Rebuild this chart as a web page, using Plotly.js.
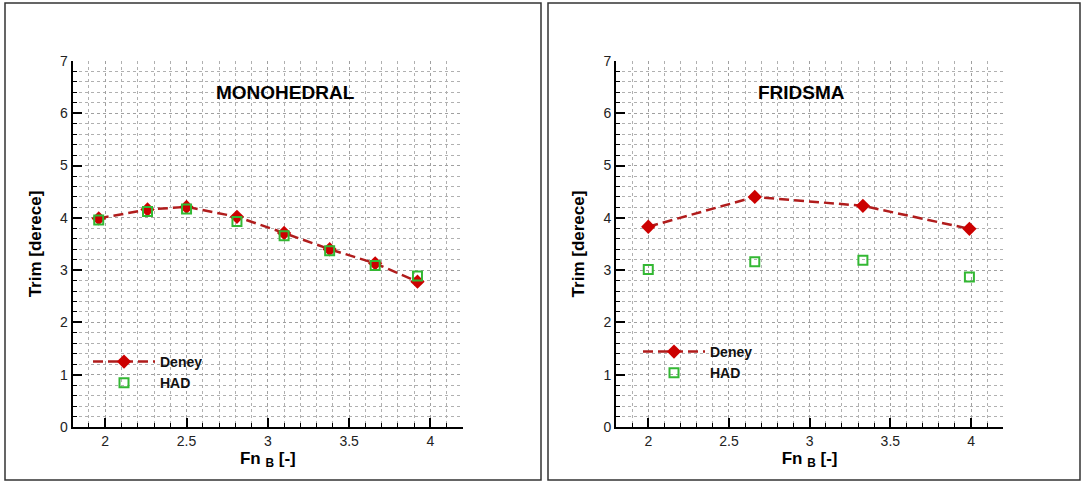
<!DOCTYPE html>
<html>
<head>
<meta charset="utf-8">
<script src="https://cdn.plot.ly/plotly-3.0.1.min.js"></script>
<style>html,body{margin:0;padding:0;background:#fff;}#chart{width:1083px;height:481px;}</style>
</head>
<body>
<div id="chart"></div>
<script>
// ---- data ----
const monoFn    = [1.96, 2.26, 2.50, 2.81, 3.10, 3.38, 3.66, 3.92];
const monoDeney = [3.99, 4.16, 4.21, 4.02, 3.71, 3.40, 3.13, 2.78];
const monoHAD   = [3.96, 4.12, 4.17, 3.93, 3.66, 3.37, 3.09, 2.89];

const fridFn    = [2.00, 2.66, 3.33, 3.99];
const fridDeney = [3.83, 4.40, 4.23, 3.79];
const fridHAD   = [3.01, 3.16, 3.19, 2.87];

const panelTitles = ["MONOHEDRAL", "FRIDSMA"];
const seriesNames = ["Deney", "HAD"];
const xTitle = "Fn <sub>B</sub> [-]";
const yTitle = "Trim [derece]";

const FONT = "Liberation Sans, Arial, sans-serif";
const RED = "#cc0000", LINE_RED = "#b01c1c", GREEN = "#33b833";

function deneyTrace(x, y, xa, ya, lg) {
  return {x: x, y: y, xaxis: xa, yaxis: ya, legend: lg, name: seriesNames[0],
    type: "scatter", mode: "lines+markers",
    line: {color: LINE_RED, width: 2.5, dash: "10px,5px"},
    marker: {symbol: "diamond", size: 11, color: RED}};
}
function hadTrace(x, y, xa, ya, lg) {
  return {x: x, y: y, xaxis: xa, yaxis: ya, legend: lg, name: seriesNames[1],
    type: "scatter", mode: "markers",
    marker: {symbol: "square-open", size: 9, color: GREEN, line: {width: 2, color: GREEN}}};
}

const traces = [
  deneyTrace(monoFn, monoDeney, "x", "y", "legend"),
  hadTrace(monoFn, monoHAD, "x", "y", "legend"),
  deneyTrace(fridFn, fridDeney, "x2", "y2", "legend2"),
  hadTrace(fridFn, fridHAD, "x2", "y2", "legend2")
];

function xAxis(domain, anchor) {
  return {domain: domain, anchor: anchor, range: [1.8, 4.2],
    tick0: 2, dtick: 0.5, ticks: "inside", ticklen: 9, tickwidth: 2, tickcolor: "#000",
    showline: true, linecolor: "#000", linewidth: 2, zeroline: false,
    showgrid: true, gridcolor: "#a0a0a0", griddash: "dot", gridwidth: 1,
    minor: {dtick: 0.1, ticks: "inside", ticklen: 4, tickwidth: 1, tickcolor: "#000",
      showgrid: true, gridcolor: "#b0b0b0", griddash: "dot", gridwidth: 1},
    tickfont: {family: FONT, size: 14, color: "#222"},
    title: {text: xTitle, font: {family: FONT, size: 17, color: "#000", weight: "bold"}, standoff: 4},
    fixedrange: true};
}
function yAxis(domain, anchor) {
  return {domain: domain, anchor: anchor, range: [0, 7],
    tick0: 0, dtick: 1, ticks: "inside", ticklen: 9, tickwidth: 2, tickcolor: "#000",
    showline: true, linecolor: "#000", linewidth: 2, zeroline: false,
    showgrid: true, gridcolor: "#a0a0a0", griddash: "dot", gridwidth: 1,
    minor: {dtick: 0.2, ticks: "inside", ticklen: 4, tickwidth: 1, tickcolor: "#000",
      showgrid: true, gridcolor: "#b0b0b0", griddash: "dot", gridwidth: 1},
    tickfont: {family: FONT, size: 14, color: "#222"},
    title: {text: yTitle, font: {family: FONT, size: 17, color: "#000", weight: "bold"}, standoff: 14},
    fixedrange: true};
}

const W = 1083, H = 481;
const yDom = [1 - 427 / H, 1 - 61 / H];

function legendAt(px, py) {
  return {x: px / W, y: 1 - py / H, xanchor: "left", yanchor: "top",
    bgcolor: "rgba(0,0,0,0)", borderwidth: 0, itemwidth: 62,
    font: {family: FONT, size: 14, color: "#111", weight: "bold"}};
}

const layout = {
  width: W, height: H,
  margin: {l: 0, r: 0, t: 0, b: 0},
  paper_bgcolor: "#fff", plot_bgcolor: "#fff",
  showlegend: true,
  xaxis: xAxis([72.7 / W, 463 / W], "y"),
  yaxis: yAxis(yDom, "x"),
  xaxis2: xAxis([616 / W, 1003.3 / W], "y2"),
  yaxis2: yAxis(yDom, "x2"),
  legend: legendAt(88, 346),
  legend2: legendAt(638, 336),
  annotations: [
    {xref: "x", yref: "y", x: 3.11, y: 6.4, text: panelTitles[0], showarrow: false,
      font: {family: FONT, size: 19, color: "#000", weight: "bold"}},
    {xref: "x2", yref: "y2", x: 2.95, y: 6.4, text: panelTitles[1], showarrow: false,
      font: {family: FONT, size: 19, color: "#000", weight: "bold"}}
  ],
  shapes: [
    {type: "rect", xref: "paper", yref: "paper", x0: 5 / W, x1: 541 / W, y0: 1 - 480 / H, y1: 1 - 3 / H,
      line: {color: "#333", width: 1.5}},
    {type: "rect", xref: "paper", yref: "paper", x0: 548 / W, x1: 1080 / W, y0: 1 - 480 / H, y1: 1 - 3 / H,
      line: {color: "#333", width: 1.5}}
  ]
};

Plotly.newPlot("chart", traces, layout, {staticPlot: true, displayModeBar: false});
</script>
</body>
</html>
